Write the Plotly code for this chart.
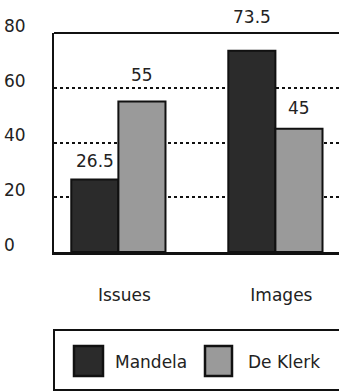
import plotly.graph_objects as go

# Data
categories = ["Issues", "Images"]
series_names = ["Mandela", "De Klerk"]
mandela = [26.5, 73.5]
de_klerk = [55, 45]
y_ticks = [0, 20, 40, 60, 80]
y_tick_text = ["0\u2007", "20", "40", "60", "80"]

# Canvas and plot-area geometry (pixels)
W, H = 339, 392
L, R, T, B = 54, 339, 33, 252


def xp(px):
    return (px - L) / (R - L)


def yp(py):
    return (B - py) / (B - T)


FONT = dict(family="DejaVu Sans", size=17, color="#222222")
INK = "#111111"
BAR_W = 0.3
colors = ["#2b2b2b", "#9a9a9a"]
offsets = [-BAR_W, 0.0]
label_shift = [[18, 34], [26, 21]]  # value-label lift above each bar, px

fig = go.Figure()
xs = list(range(len(categories)))
for name, vals, col, off, shifts in zip(series_names, [mandela, de_klerk],
                                        colors, offsets, label_shift):
    fig.add_bar(x=xs, y=vals, name=name, width=BAR_W, offset=off,
                marker=dict(color=col, line=dict(color=INK, width=2)),
                showlegend=False)
    for x, v, s in zip(xs, vals, shifts):
        fig.add_annotation(x=x + off + BAR_W / 2, y=v, text=f"{v:g}",
                           showarrow=False, yshift=s, yanchor="middle",
                           font=FONT)

# Top border of the plot frame
fig.add_shape(type="line", xref="paper", yref="paper", x0=0, x1=1, y0=1, y1=1,
              line=dict(color=INK, width=2))

# Legend drawn as a framed box with large swatches
fig.add_shape(type="rect", xref="paper", yref="paper",
              x0=xp(54), x1=xp(350), y0=yp(390), y1=yp(330),
              line=dict(color=INK, width=2), fillcolor="rgba(0,0,0,0)")
swatches = [(74, 103), (205, 232)]
text_left = [113, 246]
for name, col, (sx0, sx1), tx in zip(series_names, colors, swatches, text_left):
    fig.add_shape(type="rect", xref="paper", yref="paper",
                  x0=xp(sx0), x1=xp(sx1), y0=yp(376), y1=yp(346),
                  line=dict(color=INK, width=2.5), fillcolor=col)
    fig.add_annotation(xref="paper", yref="paper", x=xp(tx), y=yp(362),
                       text=name, showarrow=False, xanchor="left",
                       yanchor="middle", font=FONT)

fig.update_layout(
    width=W, height=H,
    margin=dict(l=L, r=W - R, t=T, b=H - B, pad=0),
    barmode="overlay",
    plot_bgcolor="white", paper_bgcolor="white",
    font=FONT,
    xaxis=dict(range=[-0.41, 1.405], tickvals=xs, ticktext=categories,
               showgrid=False, zeroline=False, showline=True,
               linecolor=INK, linewidth=3, ticks="", ticklabelstandoff=26,
               ticklabelshift=6, fixedrange=True),
    yaxis=dict(range=[0, 80], tickvals=y_ticks, ticktext=y_tick_text,
               showgrid=True, gridcolor=INK, gridwidth=2, griddash="dot",
               zeroline=False, showline=True, linecolor=INK, linewidth=2,
               ticks="", ticklabelstandoff=23, ticklabelshift=-7,
               fixedrange=True),
)

fig.write_html("out.html")
